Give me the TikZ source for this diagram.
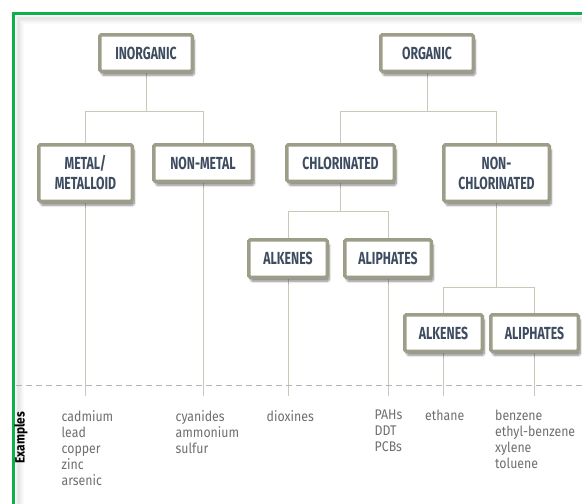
\documentclass[tikz,border=0pt]{standalone}
\usepackage{fontspec}
\setmainfont{Fira Sans}
\newfontfamily\boxfont[FakeStretch=0.70]{Fira Sans}
\newfontfamily\exfont[FakeStretch=0.88]{Fira Sans}
\newfontfamily\labfont[FakeStretch=0.88]{Fira Sans}
\usetikzlibrary{shadows.blur}
\pgfdeclarelayer{background}
\pgfsetlayers{background,main}
\definecolor{frameGreen}{HTML}{0DB04B}
\definecolor{boxBorder}{HTML}{9D9D89}
\definecolor{boxText}{HTML}{3E4C60}
\definecolor{linkGray}{HTML}{C9C9BA}
\definecolor{exText}{HTML}{6E6E6E}
\definecolor{dashGray}{HTML}{B4B4B4}
\tikzset{
  catbox/.style={draw=boxBorder, line width=3.5pt, fill=white, rounded corners=1.5pt,
    inner sep=0pt, align=center, text=boxText,
    font=\boxfont\bfseries\fontsize{17.5}{20}\selectfont,
    blur shadow={shadow xshift=2pt, shadow yshift=-4pt, shadow opacity=45, shadow blur steps=6}},
  link/.style={draw=linkGray, line width=0.9pt},
  extext/.style={anchor=north west, inner sep=0pt, align=left, text=exText,
    font=\exfont\fontsize{14}{16}\selectfont},
}
\begin{document}
\begin{tikzpicture}[x=1pt, y=-1pt]
\useasboundingbox (0,0) rectangle (582,504);
% frame inner shadow
\foreach \d/\o in {16.5/0.05,17.5/0.09,18.5/0.10,19.5/0.09,20.5/0.07,21.5/0.05,22.5/0.03,23.5/0.02}{
  \draw[black, opacity=\o, line width=1pt] (\d,504) -- (\d,\d) -- (582,\d);
}
\draw[frameGreen, line width=3pt] (13.5,504) -- (13.5,13.5) -- (582,13.5);

% category boxes
\node[catbox, minimum width=92.5pt, minimum height=36.5pt] (inorg) at (146,53) {INORGANIC};
\node[catbox, minimum width=92.5pt, minimum height=36.5pt] (org) at (427,53) {ORGANIC};
\node[catbox, minimum width=93.5pt, minimum height=56.5pt] (metal) at (85.5,173) {METAL/\\METALLOID};
\node[catbox, minimum width=98.5pt, minimum height=36.5pt] (nonmetal) at (203,163) {NON-METAL};
\node[catbox, minimum width=107.5pt, minimum height=36.5pt] (chlor) at (340.5,163) {CHLORINATED};
\node[catbox, minimum width=105.5pt, minimum height=56.5pt] (nonchlor) at (496.5,173) {NON-\\CHLORINATED};
\node[catbox, minimum width=78.5pt, minimum height=37.5pt] (alkA) at (288,258.5) {ALKENES};
\node[catbox, minimum width=86.5pt, minimum height=37.5pt] (aliA) at (388,258.5) {ALIPHATES};
\node[catbox, minimum width=77.5pt, minimum height=36.5pt] (alkB) at (443.5,333) {ALKENES};
\node[catbox, minimum width=87.5pt, minimum height=36.5pt] (aliB) at (534.5,333) {ALIPHATES};

% junction coordinates
\coordinate (inorgJ) at (146,111);
\coordinate (orgJ) at (427,111);
\coordinate (chlorJ) at (340.5,211.5);
\coordinate (nonchlorJ) at (496.5,287.5);

\begin{pgfonlayer}{background}
\draw[link] (inorg.south) -- (inorgJ) -| (metal.north);
\draw[link] (inorgJ) -| (nonmetal.north);
\draw[link] (org.south) -- (orgJ) -| (chlor.north);
\draw[link] (orgJ) -| (nonchlor.north);
\draw[link] (chlor.south) -- (chlorJ) -| (alkA.north);
\draw[link] (chlorJ) -| (aliA.north);
\draw[link] (nonchlor.south) -- (nonchlorJ) -| (alkB.north);
\draw[link] (nonchlorJ) -| (aliB.north);
\foreach \n in {metal,nonmetal,alkA,aliA,alkB,aliB}{
  \draw[link] (\n.south) -- (\n.south |- 0,396);
}
\end{pgfonlayer}

% dashed separator
\coordinate (dashL) at (16,385);
\coordinate (dashR) at (582,385);
\draw[dashGray, line width=0.8pt, dash pattern=on 6pt off 4pt] (dashL) -- (dashR);

% examples
\node[rotate=90, inner sep=0pt, text=black, font=\labfont\bfseries\fontsize{13.5}{15}\selectfont] (exlabel) at (21,437.5) {Examples};
\node[extext] (exmetal) at (61.5,410) {cadmium\\lead\\copper\\zinc\\arsenic};
\node[extext] (exnonmetal) at (175.5,410) {cyanides\\ammonium\\sulfur};
\node[extext] (exalkA) at (266.5,410) {dioxines};
\node[extext] (exaliA) at (374.5,410) {PAHs\\DDT\\PCBs};
\node[extext] (exalkB) at (425,410) {ethane};
\node[extext] (exaliB) at (495,410) {benzene\\ethyl-benzene\\xylene\\toluene};
\end{tikzpicture}
\end{document}
